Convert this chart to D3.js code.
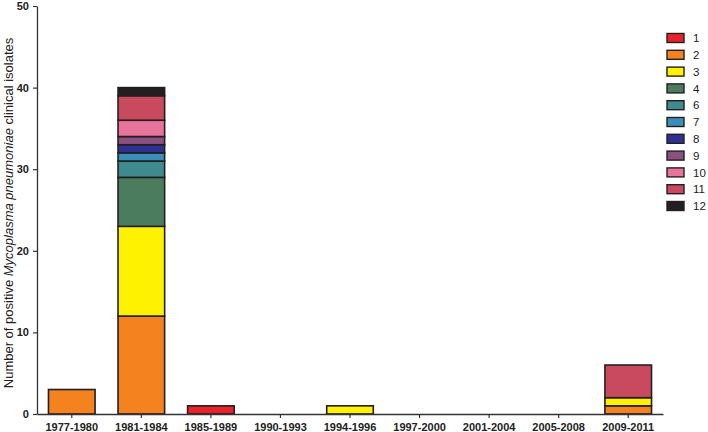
<!DOCTYPE html>
<html>
<head>
<meta charset="utf-8">
<script src="https://cdn.jsdelivr.net/npm/d3@7"></script>
<style>
  body { margin: 0; background: #fff; }
  text { font-family: "Liberation Sans", Arial, sans-serif; }
</style>
</head>
<body>
<div id="chart"></div>
<script>
const width = 708
const height = 432
const margin = { top: 6, bottom: 18, left: 37, right: 45 }

// categories and series
const periods = ["1977-1980", "1981-1984", "1985-1989", "1990-1993", "1994-1996", "1997-2000", "2001-2004", "2005-2008", "2009-2011"]
const types = ["1", "2", "3", "4", "6", "7", "8", "9", "10", "11", "12"]
const typeColors = ["#e8212a", "#f4821f", "#fff200", "#4a7c5d", "#3e8a8e", "#3a8fba", "#2e3192", "#8b5080", "#e8749b", "#c94a5e", "#231f20"]
// counts per type, one value per period
const type1  = [0, 0, 1, 0, 0, 0, 0, 0, 0]
const type2  = [3, 12, 0, 0, 0, 0, 0, 0, 1]
const type3  = [0, 11, 0, 0, 1, 0, 0, 0, 1]
const type4  = [0, 6, 0, 0, 0, 0, 0, 0, 0]
const type6  = [0, 2, 0, 0, 0, 0, 0, 0, 0]
const type7  = [0, 1, 0, 0, 0, 0, 0, 0, 0]
const type8  = [0, 1, 0, 0, 0, 0, 0, 0, 0]
const type9  = [0, 1, 0, 0, 0, 0, 0, 0, 0]
const type10 = [0, 2, 0, 0, 0, 0, 0, 0, 0]
const type11 = [0, 3, 0, 0, 0, 0, 0, 0, 4]
const type12 = [0, 1, 0, 0, 0, 0, 0, 0, 0]
const yTicks = [0, 10, 20, 30, 40, 50]

const series = [type1, type2, type3, type4, type6, type7, type8, type9, type10, type11, type12]
const data = periods.map((p, i) => {
    const row = { period: p }
    types.forEach((t, j) => { row[t] = series[j][i] })
    return row
})

const svg = d3.select("div#chart").append("svg").attr("width", width).attr("height", height)

const x = d3.scaleBand().domain(periods).range([margin.left, 663]).paddingInner(0.33).paddingOuter(0.165)
const y = d3.scaleLinear().domain([0, 50]).range([height - margin.bottom, margin.top])
const color = d3.scaleOrdinal().domain(types).range(typeColors)

const stacked = d3.stack().keys(types)(data)

const barGroup = svg.append("g").attr("class", "bars")
barGroup.selectAll("g").data(stacked).join("g")
    .attr("fill", d => color(d.key))
    .selectAll("rect").data(d => d.filter(s => s[1] > s[0])).join("rect")
    .attr("x", d => x(d.data.period))
    .attr("y", d => y(d[1]))
    .attr("width", x.bandwidth())
    .attr("height", d => y(d[0]) - y(d[1]))
    .attr("stroke", "#231f20")
    .attr("stroke-width", 1.6)

// axes
const xAxis = d3.axisBottom(x).tickSize(4).tickSizeOuter(0)
const yAxis = d3.axisLeft(y).tickValues(yTicks).tickSize(4).tickSizeOuter(0)

const xAxisGroup = svg.append("g").attr("transform", `translate(0, ${height - margin.bottom})`).call(xAxis)
const yAxisGroup = svg.append("g").attr("transform", `translate(${margin.left}, 0)`).call(yAxis)

;[xAxisGroup, yAxisGroup].forEach(g => {
    g.select(".domain").attr("stroke", "#333").attr("stroke-width", 1.3)
    g.selectAll(".tick line").attr("stroke", "#333").attr("stroke-width", 1.2)
    g.selectAll(".tick text").attr("fill", "#222").attr("font-size", 11).attr("font-weight", "bold")
        .style("font-family", "'Liberation Sans', Arial, sans-serif")
})
xAxisGroup.selectAll(".tick text").attr("dy", "0.95em")
yAxisGroup.selectAll(".tick text").attr("dx", "-0.1em")

// y label
svg.append("text")
    .attr("transform", `translate(13, ${(y(0) + y(50)) / 2 + 3}) rotate(-90)`)
    .attr("text-anchor", "middle")
    .attr("font-size", 13)
    .attr("fill", "#222")
    .call(t => {
        t.append("tspan").text("Number of positive ")
        t.append("tspan").attr("font-style", "italic").text("Mycoplasma pneumoniae")
        t.append("tspan").text(" clinical isolates")
    })

// legend
const legend = svg.append("g").attr("class", "legend").attr("transform", "translate(667, 38)")
const items = legend.selectAll("g").data(types).join("g")
    .attr("transform", (d, i) => `translate(0, ${i * 16.8})`)
items.append("rect")
    .attr("x", 0).attr("y", -4.5).attr("width", 17).attr("height", 9)
    .attr("fill", d => color(d)).attr("stroke", "#231f20").attr("stroke-width", 1.4)
items.append("text")
    .attr("x", 26).attr("y", 0).attr("dy", "0.36em")
    .attr("font-size", 11.5).attr("fill", "#222")
    .text(d => d)
</script>
</body>
</html>
